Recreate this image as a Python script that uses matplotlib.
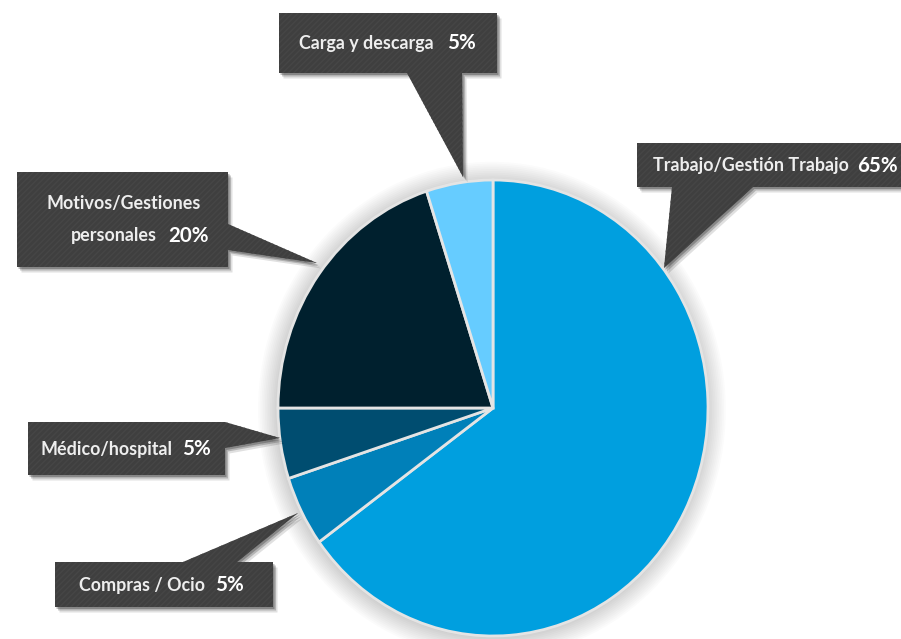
import matplotlib
matplotlib.use("Agg")
import matplotlib.pyplot as plt
from matplotlib.patches import Polygon, Ellipse
import numpy as np

# ---- data ----
categories = ["Trabajo/Gestión Trabajo", "Compras / Ocio", "Médico/hospital",
              "Motivos/Gestiones\npersonales", "Carga y descarga"]
values = [65, 5, 5, 20, 5]
pct_labels = ["65%", "5%", "5%", "20%", "5%"]
colors = ["#009FDF", "#0080B9", "#004D70", "#00202E", "#66CCFF"]

W, H = 901, 639
fig = plt.figure(figsize=(W / 100, H / 100), dpi=100)
fig.patch.set_facecolor("white")

# pie bounding box in pixels
cx, cy, rx, ry = 493, 408, 215, 228
pax = fig.add_axes([(cx - rx) / W, (H - cy - ry) / H, 2 * rx / W, 2 * ry / H])
pax.set_zorder(1)
# soft shadow
for i in range(12):
    pax.add_patch(Ellipse((-0.005, -0.008), 2 * (1 + 0.008 * i), 2 * (1 + 0.008 * i),
                          facecolor="#000000", alpha=0.016, lw=0, clip_on=False))
wedges, _ = pax.pie(values, colors=colors, startangle=90, counterclock=False,
                    radius=1, wedgeprops=dict(edgecolor="#e4e4e4", linewidth=2.0))
for w in wedges:
    w.set_clip_on(False)
pax.set_aspect("auto")
pax.set_xlim(-1, 1)
pax.set_ylim(-1, 1)
pax.axis("off")

# overlay axes in pixel coordinates for callouts
ax = fig.add_axes([0, 0, 1, 1])
ax.set_zorder(2)
ax.patch.set_alpha(0)
ax.set_xlim(0, W)
ax.set_ylim(H, 0)
ax.axis("off")

box_col = "#3f3f3f"
fontfam = ["Lato", "DejaVu Sans"]

callouts = [
    # Trabajo
    dict(poly=[(637, 143), (905, 143), (905, 187), (753, 187), (664, 268), (672, 187), (637, 187)],
         lines=[(849, 166)], pctx=857),
    # Compras
    dict(poly=[(55, 562), (183, 562), (298, 513), (237, 562), (273, 562), (273, 607), (55, 607)],
         lines=[(205, 585)], pctx=215),
    # Medico
    dict(poly=[(28, 422), (225, 422), (280, 438), (225, 448), (225, 475), (28, 475)],
         lines=[(172, 449)], pctx=182),
    # Motivos
    dict(poly=[(17, 172), (228, 172), (228, 224), (317, 263), (228, 250), (228, 267), (17, 267)],
         lines=[(201, 203), (157, 236)], pctx=168),
    # Carga
    dict(poly=[(279, 13), (497, 13), (497, 73), (462, 73), (463, 177), (407, 73), (279, 73)],
         lines=[(434, 43)], pctx=447),
]

for i, c in enumerate(callouts):
    pts = np.array(c["poly"], dtype=float)
    for off, a in [((4.5, 5.5), 0.12), ((3, 3.5), 0.2), ((1.5, 2), 0.25)]:
        ax.add_patch(Polygon(pts + np.array(off), closed=True, facecolor="#000000",
                             alpha=a, lw=0))
    ax.add_patch(Polygon(pts, closed=True, facecolor=box_col, edgecolor="#464646",
                         lw=0, hatch="//////"))
    label_lines = categories[i].split("\n")
    for j, (lx, ly) in enumerate(c["lines"]):
        ax.text(lx, ly, label_lines[j], ha="right", va="center", color="#eeeeee",
                fontsize=12.9, family=fontfam, fontweight="bold")
    lx, ly = c["lines"][-1]
    ax.text(c["pctx"], ly, pct_labels[i], ha="left", va="center", color="white",
            fontsize=14.8, family=fontfam, fontweight="bold")

fig.savefig("out.png", dpi=100, facecolor="white")
